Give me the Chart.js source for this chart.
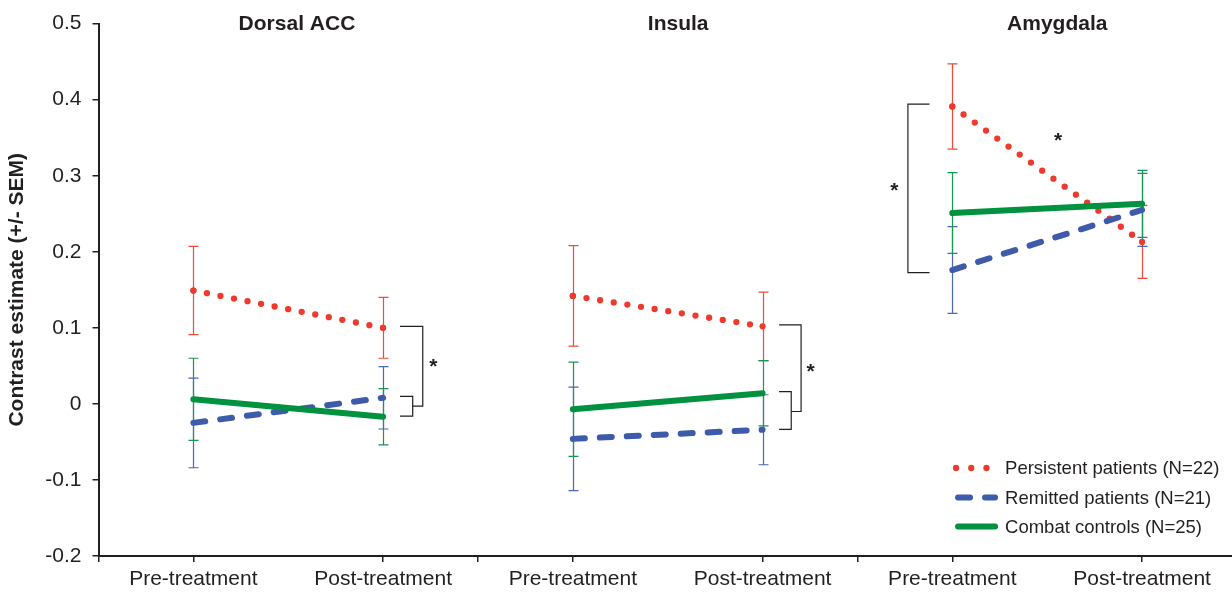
<!DOCTYPE html>
<html><head><meta charset="utf-8">
<script src="https://cdn.jsdelivr.net/npm/chart.js@4"></script>
<style>html,body{margin:0;padding:0;background:#fff}#wrap{width:1232px;height:594px}</style>
</head><body><div id="wrap"><canvas id="c" width="1232" height="594"></canvas></div>
<script>
// ---- data ----
const regions = ['Dorsal ACC', 'Insula', 'Amygdala'];
const timepoints = ['Pre-treatment', 'Post-treatment'];
const seriesNames = ['Persistent patients (N=22)', 'Remitted patients (N=21)', 'Combat controls (N=25)'];
// order: DorsalACC pre, post, Insula pre, post, Amygdala pre, post
const persistentMean = [0.149, 0.100, 0.142, 0.102, 0.391, 0.213];
const persistentSEM  = [0.058, 0.040, 0.066, 0.045, 0.056, 0.048];
const remittedMean   = [-0.025, 0.008, -0.046, -0.034, 0.176, 0.255];
const remittedSEM    = [0.059, 0.041, 0.068, 0.046, 0.057, 0.048];
const controlsMean   = [0.006, -0.017, -0.007, 0.014, 0.251, 0.263];
const controlsSEM    = [0.054, 0.037, 0.062, 0.043, 0.053, 0.044];
const yTicks = [-0.2, -0.1, 0, 0.1, 0.2, 0.3, 0.4, 0.5];

// ---- helpers ----
const INK = '#231f20';
const FONT = "'Liberation Sans', Arial, Helvetica, sans-serif";
function catX(i) { return i + 0.5; }           // category centre on the linear x scale
function buildLine(means) {
  const pts = [];
  for (let r = 0; r < regions.length; r++) {
    pts.push({x: catX(2 * r), y: means[2 * r]});
    pts.push({x: catX(2 * r + 1), y: means[2 * r + 1]});
    if (r < regions.length - 1) pts.push({x: 2 * r + 2, y: null});
  }
  return pts;
}
const series = [
  {name: seriesNames[0], mean: persistentMean, sem: persistentSEM, color: '#ee3a2c', err: '#ef4a3c',
   width: 6.3, dash: [0, 13.8], legendDash: [0, 15.2], point: 3.1},
  {name: seriesNames[1], mean: remittedMean, sem: remittedSEM, color: '#3d5aab', err: '#4a66b6',
   width: 6, dash: [12, 15], legendDash: [12, 15], point: 0},
  {name: seriesNames[2], mean: controlsMean, sem: controlsSEM, color: '#00923f', err: '#15984f',
   width: 6, dash: [], legendDash: [], point: 0}
];

// group titles and significance annotations (in data coordinates)
const titleX = [1.046, 3.055, 5.053];
const brackets = [
  [[1.589, 0.102], [1.709, 0.102], [1.709, -0.003], [1.656, -0.003]],
  [[1.589, 0.010], [1.656, 0.010], [1.656, -0.016], [1.589, -0.016]],
  [[3.587, 0.104], [3.703, 0.104], [3.703, -0.010], [3.651, -0.010]],
  [[3.587, 0.016], [3.651, 0.016], [3.651, -0.0335], [3.587, -0.0335]],
  [[4.380, 0.394], [4.266, 0.394], [4.266, 0.1725], [4.380, 0.1725]]
];
const stars = [[1.765, 0.051], [3.753, 0.045], [4.195, 0.2825], [5.058, 0.3477]];

const errorBars = {
  id: 'errorBars',
  beforeDatasetsDraw(chart) {
    const {ctx, scales: {x, y}} = chart;
    ctx.save();
    ctx.lineWidth = 1.2;
    series.forEach(s => {
      ctx.strokeStyle = s.err;
      s.mean.forEach((m, i) => {
        const px = Math.round(x.getPixelForValue(catX(i))) + 0.5;
        const top = y.getPixelForValue(m + s.sem[i]);
        const bot = y.getPixelForValue(m - s.sem[i]);
        ctx.beginPath();
        ctx.moveTo(px, top); ctx.lineTo(px, bot);
        ctx.moveTo(px - 5, top); ctx.lineTo(px + 5, top);
        ctx.moveTo(px - 5, bot); ctx.lineTo(px + 5, bot);
        ctx.stroke();
      });
    });
    ctx.restore();
  }
};

const annotations = {
  id: 'annotations',
  afterDraw(chart) {
    const {ctx, scales: {x, y}, chartArea} = chart;
    ctx.save();
    // group titles
    ctx.fillStyle = INK;
    ctx.font = 'bold 21px ' + FONT;
    ctx.textAlign = 'center';
    ctx.textBaseline = 'middle';
    regions.forEach((t, i) => ctx.fillText(t, x.getPixelForValue(titleX[i]), y.getPixelForValue(0.5) + 1));
    // brackets
    ctx.strokeStyle = INK;
    ctx.lineWidth = 1.2;
    brackets.forEach(b => {
      ctx.beginPath();
      b.forEach((p, k) => {
        const px = x.getPixelForValue(p[0]), py = y.getPixelForValue(p[1]);
        if (k === 0) ctx.moveTo(px, py); else ctx.lineTo(px, py);
      });
      ctx.stroke();
    });
    // stars
    ctx.font = 'bold 21px ' + FONT;
    ctx.textBaseline = 'alphabetic';
    stars.forEach(s => ctx.fillText('*', x.getPixelForValue(s[0]), y.getPixelForValue(s[1]) + 8));
    // legend (anchored to the last category position)
    const anchor = x.getPixelForValue(catX(5));
    const lx0 = anchor - 187, tx = anchor - 137;
    const rows = [chartArea.bottom - 88, chartArea.bottom - 58.5, chartArea.bottom - 29.5];
    ctx.font = '18.5px ' + FONT;
    ctx.textAlign = 'left';
    ctx.textBaseline = 'middle';
    series.forEach((s, i) => {
      const ry = rows[i];
      ctx.save();
      ctx.strokeStyle = s.color;
      ctx.lineWidth = s.width;
      ctx.lineCap = 'round';
      ctx.setLineDash(s.legendDash);
      ctx.beginPath();
      if (i === 0) { ctx.moveTo(lx0 + 1, ry); ctx.lineTo(lx0 + 32, ry); }
      else { ctx.moveTo(lx0 + 3, ry); ctx.lineTo(lx0 + 40, ry); }
      ctx.stroke();
      ctx.restore();
      ctx.fillStyle = INK;
      ctx.fillText(s.name, tx, ry + 1);
    });
    // extend x axis line to the page edge, as in the reference
    const by = Math.round(chartArea.bottom);
    ctx.strokeStyle = INK;
    ctx.lineWidth = 2;
    ctx.beginPath();
    ctx.moveTo(chartArea.right - 2, by);
    ctx.lineTo(chart.width, by);
    ctx.stroke();
    ctx.restore();
  }
};

const xTickValues = [0, 0.5, 1.5, 2, 2.5, 3.5, 4, 4.5, 5.5];

new Chart(document.getElementById('c'), {
  type: 'line',
  data: {
    datasets: series.slice().reverse().map(s => ({
      label: s.name,
      data: buildLine(s.mean),
      borderColor: s.color,
      backgroundColor: s.color,
      borderWidth: s.width,
      borderDash: s.dash,
      borderCapStyle: 'round',
      borderJoinStyle: 'round',
      pointRadius: s.point,
      pointBorderWidth: 0,
      pointBackgroundColor: s.color,
      spanGaps: false,
      tension: 0,
      fill: false
    }))
  },
  options: {
    responsive: false,
    animation: false,
    devicePixelRatio: 1,
    layout: {padding: {top: 19, right: 0, bottom: 0, left: 0}},
    plugins: {legend: {display: false}, tooltip: {enabled: false}},
    scales: {
      x: {
        type: 'linear', min: 0, max: 5.953,
        afterBuildTicks: sc => { sc.ticks = xTickValues.map(v => ({value: v})); },
        afterFit: sc => { sc.height = 38; },
        grid: {drawOnChartArea: false, drawTicks: true, tickLength: 6, color: INK, lineWidth: 1.5},
        border: {display: true, color: INK, width: 2},
        ticks: {
          autoSkip: false, maxRotation: 0, padding: 5, color: INK,
          font: {family: FONT, size: 21},
          callback: v => (Math.abs(v % 1 - 0.5) < 1e-6 ? timepoints[Math.floor(v) % 2] : '')
        }
      },
      y: {
        min: -0.2, max: 0.5,
        afterBuildTicks: sc => { sc.ticks = yTicks.map(v => ({value: v})); },
        afterFit: sc => { sc.width = 98.5; },
        grid: {drawOnChartArea: false, drawTicks: true, tickLength: 6, color: INK, lineWidth: 1.5},
        border: {display: true, color: INK, width: 2},
        ticks: {
          padding: 11, color: INK,
          font: {family: FONT, size: 21},
          callback: v => String(Math.round(v * 10) / 10)
        },
        title: {
          display: true, text: 'Contrast estimate (+/- SEM)', color: INK,
          font: {family: FONT, size: 21, weight: 'bold'},
          padding: {top: 5, bottom: 0}
        }
      }
    }
  },
  plugins: [errorBars, annotations]
});
</script>
</body></html>
